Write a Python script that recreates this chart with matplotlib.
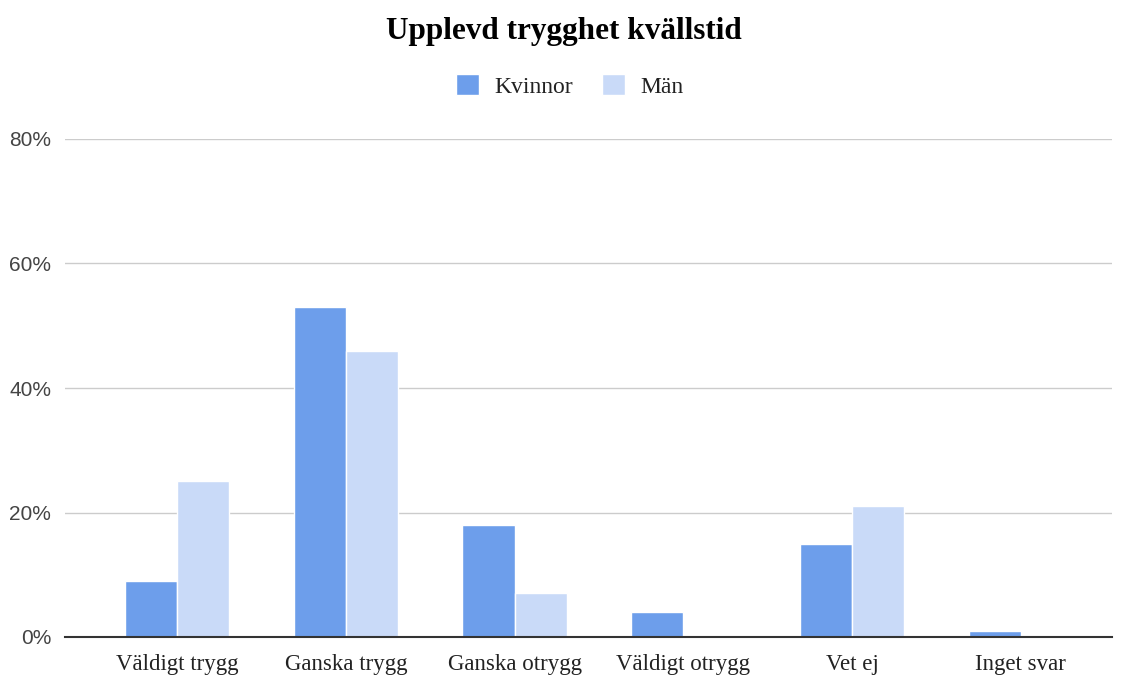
import matplotlib
matplotlib.use("Agg")
import matplotlib.pyplot as plt
import numpy as np

categories = ["Väldigt trygg", "Ganska trygg", "Ganska otrygg", "Väldigt otrygg", "Vet ej", "Inget svar"]
kvinnor = [9, 53, 18, 4, 15, 1]
man = [25, 46, 7, 0, 21, 0]
series_names = ["Kvinnor", "Män"]
yticks = [0, 20, 40, 60, 80]

fig = plt.figure(figsize=(11.28, 6.75), dpi=100)
ax = fig.add_axes([65/1128, 1-637/675, (1112-65)/1128, (637-139)/675])

x = np.arange(len(categories))
w = 0.31
ax.bar(x - w/2, kvinnor, width=w, color="#6d9eeb", edgecolor="white", linewidth=1, label=series_names[0], zorder=3)
ax.bar(x + w/2, man, width=w, color="#c9daf8", edgecolor="white", linewidth=1, label=series_names[1], zorder=3)

ax.set_xlim(-0.664, 5.54)
ax.set_ylim(0, 80)
ax.set_yticks(yticks)
ax.set_yticklabels([f"{v}%" for v in yticks], fontfamily="Liberation Sans", fontsize=15, color="#444444")
ax.set_xticks(x)
ax.set_xticklabels(categories, fontfamily="Liberation Serif", fontsize=16.5, color="#222222")
ax.tick_params(axis="both", length=0)
ax.tick_params(axis="y", pad=10)
ax.tick_params(axis="x", pad=12)
ax.grid(axis="y", color="#cccccc", linewidth=1, zorder=0)
for s in ["top", "right", "left"]:
    ax.spines[s].set_visible(False)
ax.spines["bottom"].set_color("#333333")
ax.spines["bottom"].set_linewidth(1.5)
ax.spines["bottom"].set_zorder(4)

fig.text(0.5, 1-32/675, "Upplevd trygghet kvällstid", ha="center", va="center",
         fontfamily="Liberation Serif", fontweight="bold", fontsize=22.5, color="#000000")
leg = fig.legend(loc="center", bbox_to_anchor=(0.505, 1-86/675), ncol=2, frameon=False,
                 prop={"family": "Liberation Serif", "size": 17}, handlelength=1.0, handleheight=1.0,
                 columnspacing=1.2, handletextpad=0.65)
for t in leg.get_texts():
    t.set_color("#222222")

fig.savefig("out.png", dpi=100)
